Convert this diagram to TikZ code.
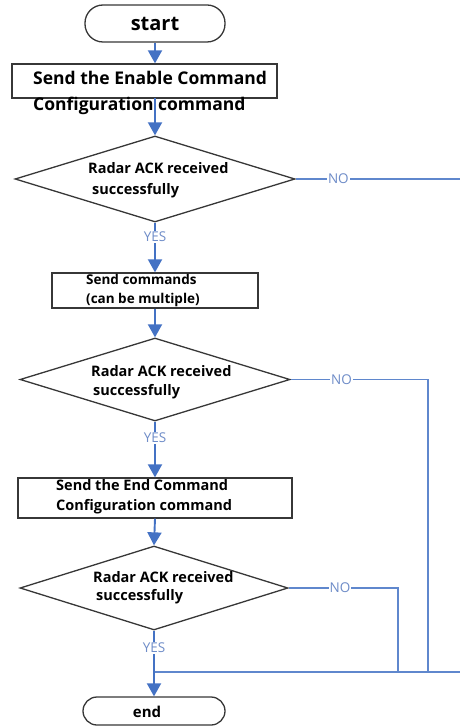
\documentclass[tikz,border=0pt]{standalone}
\usepackage{fontspec}
\setmainfont{Open Sans}
\usetikzlibrary{shapes.geometric,arrows.meta}
\definecolor{arrowblue}{RGB}{68,114,196}
\definecolor{lineblue}{RGB}{95,135,205}
\definecolor{labelblue}{RGB}{110,140,200}
\definecolor{edgegray}{RGB}{55,55,55}
\tikzset{
  shapebox/.style={draw=edgegray,line width=1.3pt,fill=white,inner sep=0pt},
  procbox/.style={shapebox,rectangle},
  decision/.style={shapebox,diamond},
  terminal/.style={shapebox,rectangle},
  txt/.style={anchor=west,inner sep=0pt,font=\bfseries},
  flow/.style={draw=arrowblue,line width=1.9pt,-{Triangle[width=14pt,length=13pt]}},
  noline/.style={draw=lineblue,line width=1.4pt},
  yn/.style={text=labelblue,fill=white,inner sep=1pt,font=\fontsize{13.5}{15}\selectfont}
}
\begin{document}
\begin{tikzpicture}[x=1pt,y=-1pt]
\useasboundingbox (0,0) rectangle (460,727);
% shapes
\node[terminal,rounded corners=18pt,minimum width=140pt,minimum height=37pt] (start) at (155,23.5) {};
\node[procbox,minimum width=265pt,minimum height=34pt] (b1) at (144.5,81) {};
\node[decision,minimum width=280pt,minimum height=86pt] (d1) at (155,179) {};
\node[procbox,minimum width=206pt,minimum height=35pt] (b2) at (155,290.5) {};
\node[decision,minimum width=270pt,minimum height=83pt] (d2) at (155,379.5) {};
\node[procbox,minimum width=274pt,minimum height=40pt] (b3) at (155,498) {};
\node[decision,minimum width=268pt,minimum height=84pt] (d3) at (154,588) {};
\node[terminal,rounded corners=14pt,minimum width=142pt,minimum height=28pt] (end) at (154,711) {};
% texts
\node[inner sep=0pt,font=\bfseries\fontsize{20}{24}\selectfont] (tstart) at (155,24) {start};
\node[txt,font=\bfseries\fontsize{17.5}{20}\selectfont] (t1a) at (33,78) {Send the Enable Command};
\node[txt,font=\bfseries\fontsize{17.5}{20}\selectfont] (t1b) at (33,106) {Configuration command};
\node[txt,font=\bfseries\fontsize{14.5}{17}\selectfont] (t2a) at (88,168) {Radar ACK received};
\node[txt,font=\bfseries\fontsize{14.5}{17}\selectfont] (t2b) at (92,191) {successfully};
\node[txt,font=\bfseries\fontsize{13.5}{16}\selectfont] (t3a) at (86,279) {Send commands};
\node[txt,font=\bfseries\fontsize{13.5}{16}\selectfont] (t3b) at (86,300) {(can be multiple)};
\node[txt,font=\bfseries\fontsize{14.5}{17}\selectfont] (t4a) at (91,371) {Radar ACK received};
\node[txt,font=\bfseries\fontsize{14.5}{17}\selectfont] (t4b) at (93,392) {successfully};
\node[txt,font=\bfseries\fontsize{14.5}{17}\selectfont] (t5a) at (56,485) {Send the End Command};
\node[txt,font=\bfseries\fontsize{14.5}{17}\selectfont] (t5b) at (56,507) {Configuration command};
\node[txt,font=\bfseries\fontsize{14.5}{17}\selectfont] (t6a) at (93,577) {Radar ACK received};
\node[txt,font=\bfseries\fontsize{14.5}{17}\selectfont] (t6b) at (96,597) {successfully};
\node[inner sep=0pt,font=\bfseries\fontsize{15}{18}\selectfont] (tend) at (147,712) {end};
% coordinates
\coordinate (r1) at (460,179);
\coordinate (c2) at (428,379.5);
\coordinate (j2) at (428,672);
\coordinate (c3) at (398,588);
\coordinate (j3) at (398,672);
\coordinate (jm) at (155,672);
\coordinate (rb) at (460,672);
% main flow
\draw[flow] (start.south) -- (start.south |- b1.north);
\draw[flow] (155,98) -- (d1.north);
\draw[flow] (d1.south) -- node[yn,pos=0.29]{YES} (b2.north);
\draw[flow] (b2.south) -- (d2.north);
\draw[flow] (d2.south) -- node[yn,pos=0.29]{YES} (b3.north);
\draw[flow] (b3.south) -- (d3.north);
\draw[flow] (d3.south) -- node[yn,pos=0.26]{YES} (end.north);
% NO branches
\draw[noline] (d1.east) -- node[yn,pos=0.26]{NO} (r1);
\draw[noline] (d2.east) -- node[yn,pos=0.37]{NO} (c2) -- (j2);
\draw[noline] (d3.east) -- node[yn,pos=0.47]{NO} (c3) -- (j3);
\draw[noline] (jm) -- (rb);
\end{tikzpicture}
\end{document}
